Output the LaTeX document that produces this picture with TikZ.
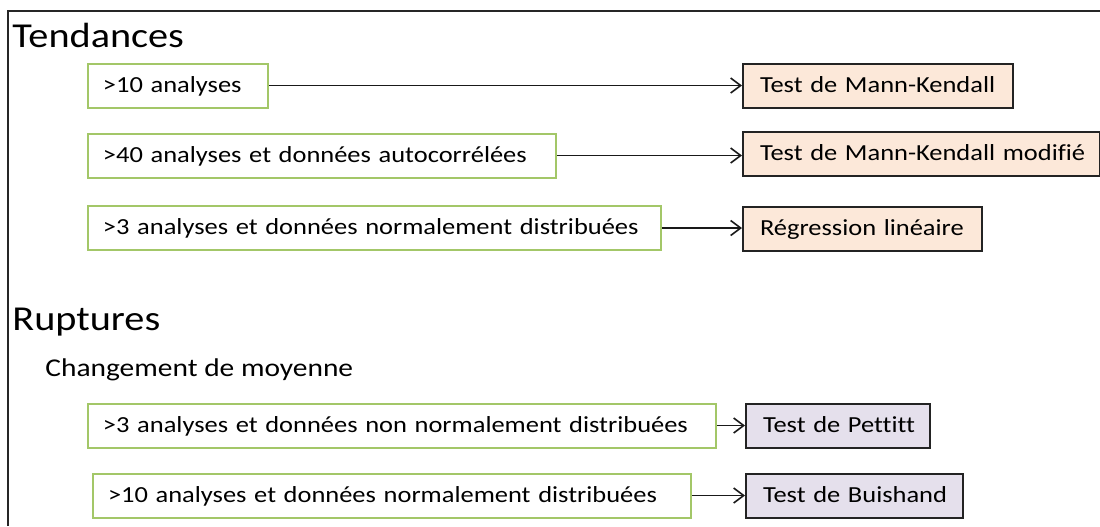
\documentclass[tikz,border=0pt]{standalone}
\usepackage{fontspec}
\setmainfont[FakeStretch=1.15, Ligatures=NoCommon]{Carlito}
\usetikzlibrary{arrows.meta}
\definecolor{condInk}{RGB}{163,199,104}
\definecolor{trendBg}{RGB}{252,232,217}
\definecolor{breakBg}{RGB}{229,224,236}
\definecolor{testInk}{RGB}{35,35,35}

\begin{document}
\begin{tikzpicture}[
  x=0.5pt, y=-0.5pt,
  font=\fontsize{11.5}{13}\selectfont,
  oneline/.style={execute at begin node={\leavevmode\hbox\bgroup},
                  execute at end node={\egroup},
                  text height=8pt, text depth=1.5pt},
  cond/.style ={draw=condInk, line width=1pt, fill=white, anchor=west, oneline,
                minimum height=22pt, inner xsep=7.5pt, text width=#1, align=left},
  trend/.style={draw=testInk, line width=1pt, fill=trendBg, anchor=west, oneline,
                minimum height=22pt, inner xsep=8.5pt, text width=#1, align=left},
  brk/.style  ={draw=testInk, line width=1pt, fill=breakBg, anchor=west, oneline,
                minimum height=22pt, inner xsep=8.5pt, text width=#1, align=left},
  head/.style ={anchor=base west, inner sep=0pt, font=\fontsize{17.5}{20}\selectfont},
  sub/.style  ={anchor=base west, inner sep=0pt, font=\fontsize{12.8}{15}\selectfont},
  flow/.style ={-{Straight Barb[length=5pt,width=7.5pt]}, line width=0.8pt, draw=black!90},
]
\useasboundingbox (0,0) rectangle (1100,526);

% frame
\draw[line width=1pt, black!85] (8,526) -- (8,11) -- (1100,11);

% ================= TENDANCES =================
\node[head] (hTrend) at (12,47) {Tendances};

\node[cond=75pt]    (c1) at (87,85.5)  {>10 analyses};
\node[cond=219pt]   (c2) at (87,155.5) {>40 analyses et données autocorrélées};
\node[cond=271.5pt] (c3) at (87,228)   {>3 analyses et données normalement distribuées};

\node[trend=118pt]   (t1) at (742,85.5) {Test de Mann-Kendall};
\node[trend=161.5pt] (t2) at (742,154)  {Test de Mann-Kendall modifié};
\node[trend=102.5pt] (t3) at (742,229)  {Régression linéaire};

\draw[flow] (c1) -- (t1);
\draw[flow] (c2.east) -- (c2.east -| t2.west);
\draw[flow] (c3.east) -- (c3.east -| t3.west);

% ================= RUPTURES =================
\node[head] (hBreak) at (12,330) {Ruptures};
\node[sub]  (hMean)  at (45,376) {Changement de moyenne};

\node[cond=299pt] (c4) at (87,425.5) {>3 analyses et données non normalement distribuées};
\node[cond=284pt] (c5) at (92,495.5) {>10 analyses et données normalement distribuées};

\node[brk=75pt]   (t4) at (745,425.5) {Test de Pettitt};
\node[brk=91.5pt] (t5) at (745,495.5) {Test de Buishand};

\draw[flow] (c4) -- (t4);
\draw[flow] (c5) -- (t5);

\end{tikzpicture}
\end{document}
